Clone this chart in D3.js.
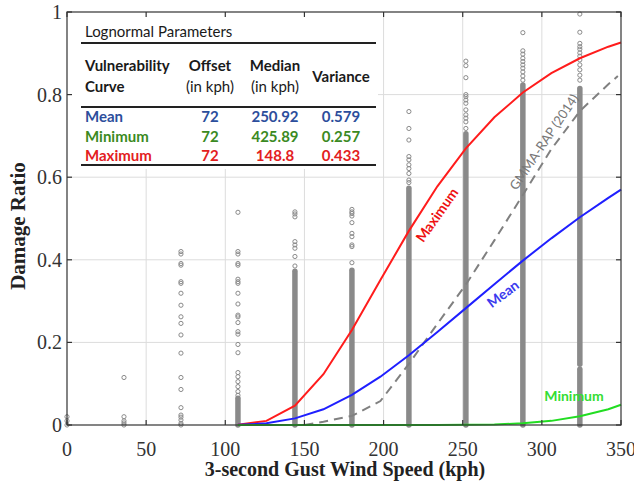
<!DOCTYPE html>
<html>
<head>
<meta charset="utf-8">
<script src="https://cdn.jsdelivr.net/npm/d3@7"></script>
<style>
  body { margin: 0; background: #fff; }
  .tick-label { font-family: "Liberation Serif", "Times New Roman", serif; font-size: 20px; fill: #333; }
  .axis-title { font-family: "Liberation Serif", "Times New Roman", serif; font-size: 20px; font-weight: bold; fill: #222; }
  .tbl { font-family: Lato, "Open Sans", sans-serif; }
</style>
</head>
<body>
<svg id="chart" width="634" height="482"></svg>
<script>
  // --------------------------------------------------
  // 1. Data
  // --------------------------------------------------
  const speedTicks = [0, 50, 100, 150, 200, 250, 300, 350];
  const ratioTicks = [0, 0.2, 0.4, 0.6, 0.8, 1];

  // vulnerability curves, sampled every 18 kph
  const curveSpeeds = [108, 126, 144, 162, 180, 198, 216, 234, 252, 270, 288, 306, 324, 342, 350];
  const meanCurve = [0.0004, 0.004, 0.016, 0.038, 0.073, 0.117, 0.169, 0.225, 0.283, 0.341, 0.398, 0.452, 0.503, 0.550, 0.570];
  const minCurve  = [0, 0, 0, 0, 0, 0, 0, 0.0001, 0.0004, 0.0014, 0.004, 0.010, 0.021, 0.038, 0.049];
  const maxCurve  = [0.0005, 0.010, 0.047, 0.123, 0.230, 0.351, 0.470, 0.578, 0.670, 0.745, 0.805, 0.852, 0.888, 0.916, 0.926];

  // GMMA-RAP (2014) reference curve
  const gmmaSpeeds = [150, 162, 180, 198, 216, 234, 252, 270, 288, 306, 324, 342, 348];
  const gmmaCurve  = [0, 0.008, 0.022, 0.058, 0.148, 0.245, 0.34, 0.447, 0.557, 0.668, 0.76, 0.825, 0.845];

  // observed damage ratios, one column per wind speed
  const columnSpeeds = [0, 36, 72, 108, 144, 180, 216, 252, 288, 324];
  const sparseRatios = [
    [0, 0.01, 0.02],
    [0.115, 0.02, 0.01, 0.005, 0],
    [0.42, 0.414, 0.391, 0.387, 0.347, 0.343, 0.319, 0.29, 0.262, 0.246, 0.218, 0.174, 0.115, 0.086, 0.042, 0.024, 0.019, 0.012, 0.004, 0],
    [0.515, 0.42, 0.414, 0.391, 0.387, 0.353, 0.347, 0.343, 0.319, 0.293, 0.266, 0.262, 0.248, 0.226, 0.22, 0.195, 0.175, 0.127, 0.117, 0.105, 0.093, 0.081, 0.072],
    [0.516, 0.511, 0.504, 0.444, 0.436, 0.428, 0.408, 0.385],
    [0.522, 0.516, 0.512, 0.506, 0.49, 0.464, 0.456, 0.436, 0.432, 0.393],
    [0.759, 0.718, 0.69, 0.65, 0.642, 0.63, 0.621, 0.609, 0.593, 0.587],
    [0.881, 0.87, 0.841, 0.8, 0.795, 0.787, 0.779, 0.763, 0.751, 0.743, 0.734, 0.718],
    [0.95, 0.906, 0.898, 0.888, 0.88, 0.872, 0.864, 0.855, 0.845, 0.835],
    [0.995, 0.951, 0.924, 0.916, 0.91, 0.901, 0.893, 0.884, 0.872, 0.86, 0.847, 0.835]
  ];
  // stretches where the circles pile up into a solid bar [low, high]
  const denseRanges = [
    [], [], [],
    [[0, 0.065]],
    [[0, 0.372]],
    [[0, 0.375]],
    [[0, 0.573]],
    [[0, 0.705]],
    [[0, 0.823]],
    [[0, 0.135], [0.147, 0.815]]
  ];

  // lognormal parameter table
  const tableCurves    = ["Mean", "Minimum", "Maximum"];
  const tableOffsets   = ["72", "72", "72"];
  const tableMedians   = ["250.92", "425.89", "148.8"];
  const tableVariances = ["0.579", "0.257", "0.433"];
  const tableColors    = ["#2c4e9c", "#3b8a22", "#e3201e"];

  // --------------------------------------------------
  // 2. Scales
  // --------------------------------------------------
  const svg = d3.select("#chart");
  const plotLeft = 67, plotRight = 621, plotTop = 12, plotBottom = 425;

  const x = d3.scaleLinear().domain([0, 350]).range([plotLeft, plotRight]);
  const y = d3.scaleLinear().domain([0, 1]).range([plotBottom, plotTop]);

  // --------------------------------------------------
  // 3. Grid
  // --------------------------------------------------
  svg.append("g").selectAll("line")
    .data(speedTicks.slice(1, -1))
    .enter().append("line")
    .attr("x1", d => x(d)).attr("x2", d => x(d))
    .attr("y1", plotTop).attr("y2", plotBottom)
    .style("stroke", "#dcdcdc").style("stroke-width", 1);

  svg.append("g").selectAll("line")
    .data(ratioTicks.slice(1, -1))
    .enter().append("line")
    .attr("x1", plotLeft).attr("x2", plotRight)
    .attr("y1", d => y(d)).attr("y2", d => y(d))
    .style("stroke", "#dcdcdc").style("stroke-width", 1);

  // --------------------------------------------------
  // 4. Observed points
  // --------------------------------------------------
  const pointColor = "#8a8a8a";
  const cols = svg.append("g").selectAll("g")
    .data(columnSpeeds.map((s, i) => ({ speed: s, pts: sparseRatios[i], dense: denseRanges[i] })))
    .enter().append("g");

  cols.selectAll("line")
    .data(d => d.dense.map(r => ({ speed: d.speed, lo: r[0], hi: r[1] })))
    .enter().append("line")
    .attr("x1", d => x(d.speed)).attr("x2", d => x(d.speed))
    .attr("y1", d => y(d.lo)).attr("y2", d => y(d.hi))
    .style("stroke", pointColor)
    .style("stroke-width", 5.5)
    .style("stroke-linecap", "round");

  cols.selectAll("circle")
    .data(d => d.pts.map(v => ({ speed: d.speed, v: v })))
    .enter().append("circle")
    .attr("cx", d => x(d.speed))
    .attr("cy", d => y(d.v))
    .attr("r", 2.1)
    .style("fill", "none")
    .style("stroke", pointColor)
    .style("stroke-width", 1);

  // --------------------------------------------------
  // 5. Curves
  // --------------------------------------------------
  const line = d3.line().x(d => x(d[0])).y(d => y(d[1]));

  svg.append("path")
    .datum(gmmaSpeeds.map((s, i) => [s, gmmaCurve[i]]))
    .attr("d", line)
    .style("fill", "none").style("stroke", "#808080")
    .style("stroke-width", 2).style("stroke-dasharray", "9,6");

  const curves = [
    { vals: maxCurve, color: "#ff1c1c" },
    { vals: meanCurve, color: "#1f1fff" },
    { vals: minCurve, color: "#22dd22" }
  ];
  curves.forEach(c => {
    svg.append("path")
      .datum(curveSpeeds.map((s, i) => [s, c.vals[i]]))
      .attr("d", line)
      .style("fill", "none")
      .style("stroke", c.color)
      .style("stroke-width", 2);
  });

  // curve labels
  function curveLabel(txt, cx, cy, angle, color, size, weight) {
    svg.append("text")
      .attr("transform", `translate(${cx},${cy}) rotate(${angle})`)
      .attr("text-anchor", "middle")
      .attr("dy", "0.35em")
      .attr("class", "tbl")
      .style("font-size", size + "px")
      .style("font-weight", weight)
      .style("fill", color)
      .text(txt);
  }
  curveLabel("Maximum", 437, 215, -55, "#ee1111", 14, "bold");
  curveLabel("Mean", 503, 294, -37, "#3a3aee", 14, "bold");
  curveLabel("GMMA-RAP (2014)", 544, 142, -56, "#777", 13, "normal");
  curveLabel("Minimum", 574, 396, 0, "#33dd33", 14, "bold");

  // --------------------------------------------------
  // 6. Parameter table (sits on a white patch)
  // --------------------------------------------------
  svg.append("rect")
    .attr("x", plotLeft).attr("y", plotTop)
    .attr("width", 311).attr("height", 157)
    .style("fill", "#fff");

  const tbl = svg.append("g").attr("class", "tbl").style("fill", "#1a1a1a");
  tbl.append("text").attr("x", 85).attr("y", 37).style("font-size", "15px").text("Lognormal Parameters");

  const rules = [43, 107, 165];
  tbl.selectAll("line").data(rules).enter().append("line")
    .attr("x1", 81).attr("x2", 376)
    .attr("y1", d => d).attr("y2", d => d)
    .style("stroke", "#222").style("stroke-width", 2);

  const colX = [210, 275, 341];
  tbl.append("text").attr("x", 85).attr("y", 71).style("font-size", "15px").style("font-weight", "bold").text("Vulnerability");
  tbl.append("text").attr("x", 85).attr("y", 92).style("font-size", "15px").style("font-weight", "bold").text("Curve");
  tbl.append("text").attr("x", colX[0]).attr("y", 71).attr("text-anchor", "middle").style("font-size", "15px").style("font-weight", "bold").text("Offset");
  tbl.append("text").attr("x", colX[0]).attr("y", 92).attr("text-anchor", "middle").style("font-size", "15px").text("(in kph)");
  tbl.append("text").attr("x", colX[1]).attr("y", 71).attr("text-anchor", "middle").style("font-size", "15px").style("font-weight", "bold").text("Median");
  tbl.append("text").attr("x", colX[1]).attr("y", 92).attr("text-anchor", "middle").style("font-size", "15px").text("(in kph)");
  tbl.append("text").attr("x", colX[2]).attr("y", 82).attr("text-anchor", "middle").style("font-size", "15px").style("font-weight", "bold").text("Variance");

  const rowY = [122, 142, 161];
  tableCurves.forEach((name, i) => {
    const row = tbl.append("g").style("fill", tableColors[i]).style("font-size", "15px").style("font-weight", "bold");
    row.append("text").attr("x", 85).attr("y", rowY[i]).text(name);
    [tableOffsets[i], tableMedians[i], tableVariances[i]].forEach((v, j) => {
      row.append("text").attr("x", colX[j]).attr("y", rowY[i]).attr("text-anchor", "middle").text(v);
    });
  });

  // --------------------------------------------------
  // 7. Frame, ticks and tick labels
  // --------------------------------------------------
  const tickLen = 5;
  const frame = svg.append("g").style("stroke", "#333").style("stroke-width", 1.2);
  frame.append("rect")
    .attr("x", plotLeft).attr("y", plotTop)
    .attr("width", plotRight - plotLeft).attr("height", plotBottom - plotTop)
    .style("fill", "none");

  speedTicks.forEach(t => {
    frame.append("line").attr("x1", x(t)).attr("x2", x(t)).attr("y1", plotBottom).attr("y2", plotBottom - tickLen);
    frame.append("line").attr("x1", x(t)).attr("x2", x(t)).attr("y1", plotTop).attr("y2", plotTop + tickLen);
  });
  ratioTicks.forEach(t => {
    frame.append("line").attr("x1", plotLeft).attr("x2", plotLeft + tickLen).attr("y1", y(t)).attr("y2", y(t));
    frame.append("line").attr("x1", plotRight).attr("x2", plotRight - tickLen).attr("y1", y(t)).attr("y2", y(t));
  });

  svg.append("g").selectAll("text")
    .data(speedTicks).enter().append("text")
    .attr("class", "tick-label")
    .attr("x", d => x(d)).attr("y", 456)
    .attr("text-anchor", "middle")
    .text(d => d);

  svg.append("g").selectAll("text")
    .data(ratioTicks).enter().append("text")
    .attr("class", "tick-label")
    .attr("x", 62).attr("y", d => y(d))
    .attr("dy", "0.35em")
    .attr("text-anchor", "end")
    .text(d => d);

  // axis titles
  svg.append("text")
    .attr("class", "axis-title")
    .attr("x", 345).attr("y", 476)
    .attr("text-anchor", "middle")
    .text("3-second Gust Wind Speed (kph)");

  svg.append("text")
    .attr("class", "axis-title")
    .attr("transform", "translate(25,226) rotate(-90)")
    .attr("text-anchor", "middle")
    .style("font-size", "21px")
    .text("Damage Ratio");
</script>
</body>
</html>
